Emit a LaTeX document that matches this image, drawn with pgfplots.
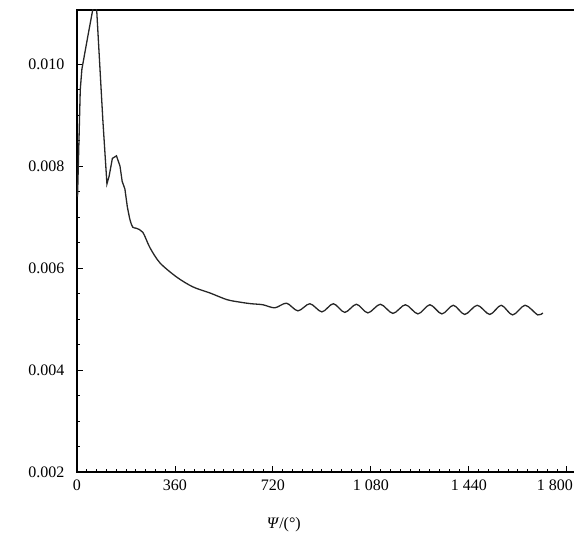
\documentclass[border=0pt]{standalone}
\usepackage{fontspec}
\setmainfont{Liberation Serif}
\usepackage{pgfplots}
\pgfplotsset{compat=1.18}
\begin{document}
\begin{tikzpicture}[font=\fontsize{16}{19}\selectfont]
\useasboundingbox (-77pt,-67pt) rectangle (497pt,472pt);
\clip (-77pt,-67pt) rectangle (497pt,472pt);
\begin{axis}[
  scale only axis, width=517pt, height=462pt,
  anchor=south west, at={(0pt,0pt)},
  xmin=0, xmax=1900, ymin=0.002, ymax=0.01106,
  axis line style={black, line width=1.3pt},
  xtick={0,360,720,1080,1440,1800},
  xticklabels={0,360,720,1 080,1 440,\makebox[0pt][c]{\hspace*{-24pt}1 800}},
  ytick={0.002,0.004,0.006,0.008,0.010},
  minor x tick num=9, minor y tick num=3,
  tick align=inside, xtick pos=bottom, ytick pos=left,
  major tick length=6pt, minor tick length=3.5pt,
  tick style={black, line width=0.9pt},
  scaled y ticks=false, scaled x ticks=false,
  /pgf/number format/assume math mode=true,
  x tick label style={yshift=-4pt},
  y tick label style={/pgf/number format/.cd, fixed, fixed zerofill, precision=3, /tikz/.cd, xshift=-9pt},
  xlabel={\textit{Ψ}/(°)},
  xlabel style={at={(rel axis cs:0.4,0)}, anchor=north, yshift=-42pt},
]
\addplot[black!85, line width=1.3pt] coordinates {
(2,0.0074) (12,0.0095) (18,0.0099) (40,0.01055) (66,0.0113) (73,0.0110) (95,0.0089) (110,0.00765)
(118,0.0078) (130,0.00815) (145,0.0082) (158,0.0080) (166,0.0077) (176,0.00755) (185,0.0072)
};
\addplot[black!85, line width=1.3pt, smooth] coordinates {
(185,0.0072) (195,0.00694) (205,0.0068) (218,0.00678) (242,0.0067) (268,0.0064) (305,0.0061)
(367,0.00582) (426,0.00563) (489,0.00551) (551,0.00538) (600,0.00533) (640,0.00530) (683,0.00528)
(727,0.00522) (770,0.00531) (812,0.00516) (856,0.00530) (900,0.00514) (942,0.00530)
(984,0.00513) (1027,0.00529) (1069,0.00512) (1115,0.00529) (1161,0.00511) (1207,0.00528)
(1253,0.00510) (1297,0.00528) (1341,0.00510) (1383,0.00527) (1425,0.00509) (1471,0.00527)
(1517,0.00509) (1559,0.00527) (1601,0.00508) (1647,0.00527) (1693,0.00508) (1712,0.00512)
};
\end{axis}
\end{tikzpicture}
\end{document}
